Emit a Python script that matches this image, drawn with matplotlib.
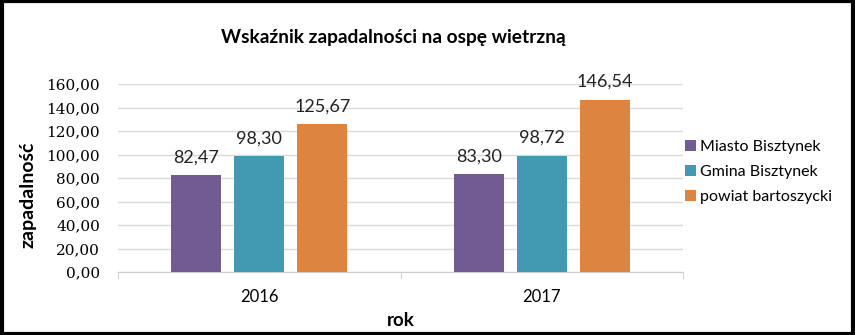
import matplotlib.pyplot as plt
import numpy as np
from matplotlib.patches import Rectangle

years = ["2016", "2017"]
series_names = ["Miasto Bisztynek", "Gmina Bisztynek", "powiat bartoszycki"]
miasto = [82.47, 83.30]
gmina = [98.30, 98.72]
powiat = [125.67, 146.54]
colors = ["#725a93", "#4299b2", "#dd8540"]

yticks = [0, 20, 40, 60, 80, 100, 120, 140, 160]

def pl(v):
    return f"{v:.2f}".replace(".", ",")

fig = plt.figure(figsize=(8.55, 3.35), dpi=100)
ax = fig.add_axes([118 / 855, 1 - 272 / 335, 565 / 855, 188 / 335])

x = np.arange(len(years))
offset = 0.223
width = 0.177
for i, (vals, name, c) in enumerate(zip([miasto, gmina, powiat], series_names, colors)):
    pos = x + (i - 1) * offset
    ax.bar(pos, vals, width, color=c, label=name, zorder=3)
    for p, v in zip(pos, vals):
        ax.text(p, v + 11, pl(v), ha="center", va="baseline",
                fontsize=13, family="Lato", color="#222222")

ax.set_xlim(-0.5, 1.5)
ax.set_ylim(0, 160)
ax.set_yticks(yticks)
ax.set_yticklabels([pl(t) for t in yticks], family="DejaVu Serif", fontsize=11)
ax.set_xticks(x)
ax.set_xticklabels(years, family="Lato", fontsize=12)
ax.tick_params(axis="y", length=0, pad=13)
ax.tick_params(axis="x", length=0, pad=12)
ax.set_xticks([-0.5, 0.5, 1.5], minor=True)
ax.tick_params(axis="x", which="minor", length=5, color="#cccccc", direction="out")
ax.grid(axis="y", color="#d9d9d9", linewidth=1, zorder=0)
for s in ["top", "right", "left"]:
    ax.spines[s].set_visible(False)
ax.spines["bottom"].set_color("#cccccc")

fig.text(393 / 855, 1 - 37 / 335, "Wskaźnik zapadalności na ospę wietrzną",
         ha="center", va="center", fontsize=13.8, family="Lato", fontweight="bold")
fig.text(28 / 855, 1 - 195 / 335, "zapadalność", rotation=90, ha="center", va="center",
         fontsize=14, family="Lato", fontweight="bold")
fig.text(401 / 855, 1 - 320 / 335, "rok", ha="center", va="center",
         fontsize=13.5, family="Lato", fontweight="bold")

leg = ax.legend(loc="center left", bbox_to_anchor=(671 / 855, 1 - 172 / 335),
                bbox_transform=fig.transFigure, frameon=False,
                prop={"family": "Lato", "size": 11.5}, handlelength=0.65,
                handleheight=0.65, handletextpad=0.25, labelspacing=0.68)

fig.patches.append(Rectangle((0.002, 0.004), 0.996, 0.992, transform=fig.transFigure,
                             fill=False, edgecolor="black", linewidth=3))

fig.savefig("out.png", dpi=100)
